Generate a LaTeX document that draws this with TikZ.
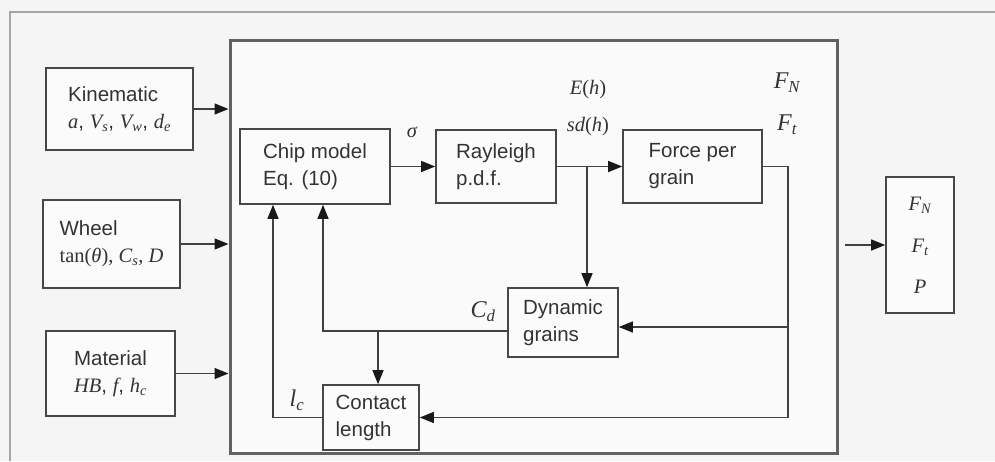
\documentclass[tikz,border=0pt]{standalone}
\usepackage{fontspec}
\setmainfont{Liberation Sans}
\newfontfamily\tms{Liberation Serif}
\newcommand{\mi}[1]{{\tms\itshape #1}}
\newcommand{\msub}[2]{{\tms\itshape #1\textsubscript{#2}}}
\usetikzlibrary{arrows.meta}
\begin{document}
\begin{tikzpicture}[x=1pt,y=-1pt,
  every node/.style={font=\fontsize{20.5}{27}\selectfont, text=black!80},
  blk/.style={draw=black!72, line width=1.6pt, fill=gray!3, align=left, inner sep=0pt},
  ln/.style={draw=black!75, line width=1.3pt},
  arr/.style={ln, -{Triangle[length=14pt,width=11pt,fill=black!90,color=black!90]}},
  lbl/.style={inner sep=0pt},
  big lbl/.style={inner sep=0pt, font=\fontsize{24}{28}\selectfont}
]
\fill[gray!8] (0,0) rectangle (995,461);
\useasboundingbox (0,0) rectangle (995,461);
\draw[gray!70, line width=1.5pt] (10,461) -- (10,12) -- (995,12);
\node[draw=black!62, line width=3pt, fill=gray!4, minimum width=607pt, minimum height=413pt, inner sep=0pt] (big) at (533.5,246.5) {};
% input boxes
\node[blk, minimum width=147pt, minimum height=82pt] (kin) at (119.5,109) {Kinematic\\ \mi{a}, \msub{V}{s}, \msub{V}{w}, \msub{d}{e}};
\node[blk, minimum width=137pt, minimum height=88pt] (wheel) at (111.5,244) {Wheel\\ {\tms tan(\itshape θ\upshape ), \msub{C}{s}, \mi{D}}};
\node[blk, minimum width=129pt, minimum height=85pt] (mat) at (110.5,373.5) {Material\\ \mi{HB}, \mi{f}, \msub{h}{c}};
% inner boxes
\node[blk, minimum width=150pt, minimum height=75pt] (chip) at (315,166.5) {Chip model\\ Eq. (10)};
\node[blk, minimum width=120pt, minimum height=73pt] (ray) at (496,166.5) {Rayleigh\\ p.d.f.};
\node[blk, minimum width=139pt, minimum height=73pt] (force) at (692.5,166.5) {Force per\\ grain};
\node[blk, minimum width=110pt, minimum height=69pt] (dyn) at (563,322.5) {Dynamic\\ grains};
\node[blk, minimum width=96pt, minimum height=65pt] (cont) at (371,417.5) {Contact\\ length};
% output box
\node[blk, minimum width=68pt, minimum height=136pt] (out) at (920,245) {};
\node[lbl] (ofn) at (920,205) {\msub{F}{N}};
\node[lbl] (oft) at (920,247) {\msub{F}{t}};
\node[lbl] (op) at (920,287) {\mi{P}};
% labels
\node[lbl] (sig) at (412,132) {\mi{σ}};
\node[lbl] (eh) at (588,90) {{\tms\itshape E}{\tms (}\mi{h}{\tms )}};
\node[lbl] (sdh) at (588,127) {\mi{sd}{\tms (}\mi{h}{\tms )}};
\node[big lbl] (fn) at (787,83) {\msub{F}{N}};
\node[big lbl] (ft) at (787,125) {\msub{F}{t}};
\node[big lbl] (cd) at (483,312) {\msub{C}{d}};
\node[big lbl] (lc) at (297,400) {\msub{l}{c}};
% inputs
\draw[arr] (kin.east) -- (kin.east -| big.west);
\draw[arr] (wheel.east) -- (wheel.east -| big.west);
\draw[arr] (mat.east) -- (mat.east -| big.west);
% main chain
\draw[arr] (chip.east) -- (ray.west);
\draw[arr] (ray.east) -- (force.west);
\coordinate (br) at (587,166.5);
\draw[arr] (br) -- (br |- dyn.north);
\coordinate (fr) at (788,166.5);
\draw[arr] (force.east) -- (fr) |- (cont.east);
\coordinate (fd) at (788,327);
\draw[arr] (fd) -- (fd -| dyn.east);
\coordinate (cdy) at (323,331);
\draw[arr] (cdy -| dyn.west) -- (cdy) -- (cdy |- chip.south);
\coordinate (cbr) at (378,331);
\draw[arr] (cbr) -- (cbr |- cont.north);
\coordinate (lcx) at (273,417.5);
\draw[arr] (cont.west) -- (lcx) -- (lcx |- chip.south);
% output
\coordinate (bo) at (845,245);
\draw[arr] (bo) -- (out.west);
\end{tikzpicture}
\end{document}
